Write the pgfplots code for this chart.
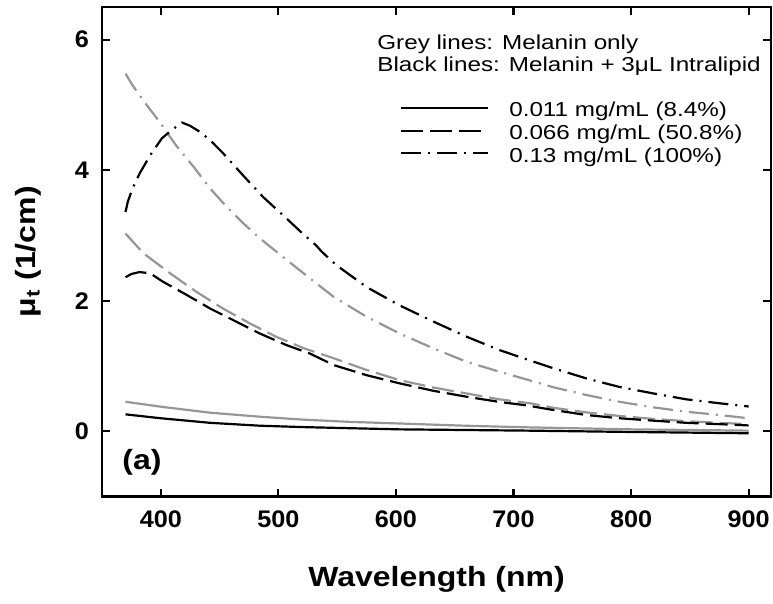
\documentclass[border=0pt]{standalone}
\usepackage{fontspec}
\setmainfont{Liberation Sans}
\newfontfamily\legfont[FakeStretch=1.2]{Liberation Sans}
\newfontfamily\labfont[FakeStretch=1.15]{Liberation Sans}
\newfontfamily\ticfont[FakeStretch=1.05]{Liberation Sans}
\usepackage{pgfplots}
\pgfplotsset{compat=1.18}
\definecolor{melgrey}{RGB}{150,150,150}

\begin{document}
\begin{tikzpicture}
\useasboundingbox (-51pt,-53.7pt) rectangle (335.5pt,248.3pt);
\begin{axis}[
  scale only axis, width=334.5pt, height=244.8pt,
  xmin=350, xmax=919, ymin=-1, ymax=6.5,
  xtick={400,500,600,700,800,900}, ytick={0,2,4,6},
  tick align=inside, tick pos=both, major tick length=4pt,
  axis line style={line width=1.2pt},
  every tick/.style={black, line width=1.1pt},
  /pgf/number format/assume math mode=true,
  xticklabel style={font=\ticfont\fontsize{12}{14}\selectfont\bfseries, yshift=-3.3pt},
  yticklabel style={font=\ticfont\fontsize{12}{14}\selectfont\bfseries, xshift=-3.0pt},
  xlabel={Wavelength (nm)},
  ylabel={μ\textsubscript{t} (1/cm)},
  label style={font=\labfont\fontsize{13.9}{16}\selectfont\bfseries},
  xlabel style={at={(axis description cs:0.5,-0.170)}, anchor=center},
  ylabel style={at={(axis description cs:-0.1106,0.5)}, anchor=center},
  legend style={at={(rel axis cs:0.436,0.816)}, anchor=north west,
    draw=none, fill=none, font=\legfont\fontsize{10.1}{12}\selectfont,
    nodes={inner sep=0pt, text height=7.5pt, text depth=2.4pt},
    row sep=1.5pt,
    /tikz/every odd column/.append style={column sep=10pt}},
  legend cell align=left,
  legend image code/.code={\draw[#1] (0pt,1.8pt) -- (43.5pt,1.8pt);},
]
% melanin only (grey)
\addplot[melgrey, line width=1.1pt, forget plot] table {
370 0.453
400 0.377
442 0.285
484 0.224
520 0.180
560 0.145
603 0.120
660 0.085
714 0.060
800 0.030
900 0.010
};
\addplot[melgrey, line width=1.1pt, dash pattern=on 11pt off 3.5pt, forget plot] table {
370 3.03
385 2.73
408 2.42
430 2.14
453 1.88
476 1.65
498 1.45
522 1.27
547 1.12
575 0.94
603 0.785
632 0.67
660 0.58
688 0.49
714 0.43
734 0.36
762 0.29
790 0.235
819 0.19
847 0.155
875 0.13
900 0.11
};
\addplot[melgrey, line width=1.1pt, dash pattern=on 10pt off 3.5pt on 1pt off 3.5pt, forget plot] table {
370 5.48
376 5.30
385 5.07
399 4.74
413 4.38
428 4.05
442 3.72
456 3.44
470 3.19
484 2.96
504 2.67
518 2.47
547 2.06
575 1.755
603 1.50
632 1.27
660 1.066
688 0.913
710 0.80
734 0.674
762 0.556
790 0.453
819 0.367
847 0.30
875 0.25
900 0.20
};
% melanin + intralipid (black)
\addplot[black, line width=1.1pt] table {
370 0.26
400 0.20
442 0.13
484 0.086
520 0.065
603 0.030
714 0.010
800 -0.010
900 -0.030
};
\addlegendentry{0.011 mg/mL (8.4\%)}
\addplot[black, line width=1.1pt, dash pattern=on 11pt off 3.5pt] table {
370 2.36
375 2.41
382 2.44
391 2.42
402 2.29
422 2.09
442 1.88
462 1.70
484 1.50
507 1.32
527 1.19
547 1.015
575 0.86
603 0.735
632 0.62
660 0.53
688 0.45
710 0.40
734 0.326
762 0.25
790 0.20
819 0.163
847 0.13
875 0.11
900 0.09
};
\addlegendentry{0.066 mg/mL (50.8\%)}
\addplot[black, line width=1.1pt, dash pattern=on 10pt off 3.5pt on 1pt off 3.5pt] table {
370 3.36
372 3.52
376 3.72
382 3.95
391 4.23
401 4.49
409 4.61
418 4.73
425 4.68
433 4.59
442 4.46
453 4.26
470 3.92
487 3.59
507 3.26
520 3.04
532 2.85
537 2.75
549 2.55
575 2.21
603 1.93
632 1.68
660 1.45
688 1.245
710 1.11
734 0.965
762 0.81
790 0.68
819 0.58
847 0.49
875 0.43
900 0.38
};
\addlegendentry{0.13 mg/mL (100\%)}
\node[anchor=west, inner sep=0pt, font=\legfont\fontsize{10.1}{12}\selectfont] at (rel axis cs:0.411,0.9244) {Grey lines: Melanin only};
\node[anchor=west, inner sep=0pt, font=\legfont\fontsize{10.1}{12}\selectfont] at (rel axis cs:0.411,0.8795) {Black lines: Melanin + 3μL Intralipid};
\node[anchor=west, inner sep=0pt, font=\labfont\fontsize{13.9}{16}\selectfont\bfseries] at (rel axis cs:0.030,0.0707) {(a)};
\end{axis}
\end{tikzpicture}
\end{document}
